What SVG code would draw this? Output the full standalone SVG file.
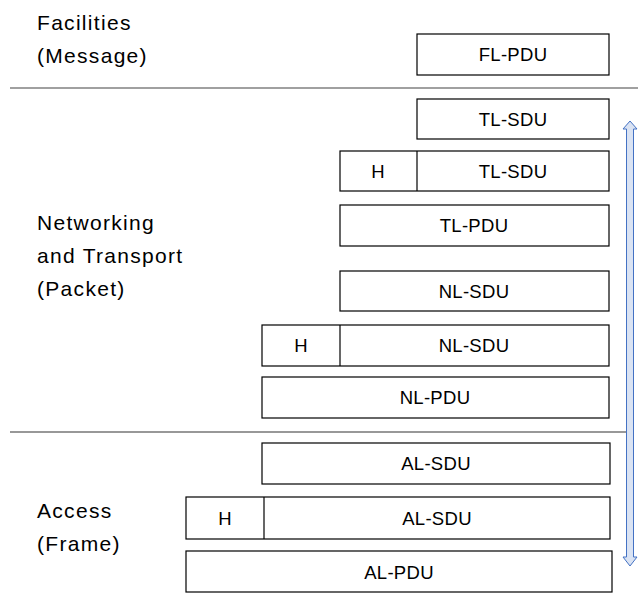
<svg xmlns="http://www.w3.org/2000/svg" width="638" height="597" viewBox="0 0 638 597">
<style>
.box{fill:#fff;stroke:#000;stroke-width:1.2}
.div{stroke:#000;stroke-width:1.2}
.lbl{font-family:"Liberation Sans",Arial,sans-serif;font-size:18.5px;fill:#000;text-anchor:middle;letter-spacing:0.3px}
.side{font-family:"Liberation Sans",Arial,sans-serif;font-size:21px;fill:#000;letter-spacing:1.3px}
</style>
<rect width="638" height="597" fill="#fff"/>
<g id="labels">
<text class="side" x="37" y="30">Facilities</text>
<text class="side" x="37" y="63">(Message)</text>
<text class="side" x="37" y="230">Networking</text>
<text class="side" x="37" y="263">and Transport</text>
<text class="side" x="37" y="296">(Packet)</text>
<text class="side" x="37" y="518">Access</text>
<text class="side" x="37" y="551">(Frame)</text>
</g>
<g id="separators">
<line x1="10" y1="88" x2="638" y2="88" stroke="#808080" stroke-width="1.5"/>
<line x1="10" y1="432" x2="626" y2="432" stroke="#333" stroke-width="1.2"/>
</g>
<g id="fl-pdu"><rect class="box" x="417" y="34" width="192" height="41"/><text class="lbl" x="513" y="61">FL-PDU</text></g>
<g id="tl-sdu-1"><rect class="box" x="417" y="99" width="192" height="40"/><text class="lbl" x="513" y="126">TL-SDU</text></g>
<g id="tl-sdu-2"><rect class="box" x="340" y="151" width="269" height="40"/><line class="div" x1="417" y1="151" x2="417" y2="191"/><text class="lbl" x="378" y="178">H</text><text class="lbl" x="513" y="178">TL-SDU</text></g>
<g id="tl-pdu"><rect class="box" x="340" y="205" width="269" height="41"/><text class="lbl" x="474" y="232">TL-PDU</text></g>
<g id="nl-sdu-1"><rect class="box" x="340" y="271" width="269" height="40"/><text class="lbl" x="474" y="298">NL-SDU</text></g>
<g id="nl-sdu-2"><rect class="box" x="262" y="325" width="347" height="41"/><line class="div" x1="340" y1="325" x2="340" y2="366"/><text class="lbl" x="301" y="352">H</text><text class="lbl" x="474" y="352">NL-SDU</text></g>
<g id="nl-pdu"><rect class="box" x="262" y="377" width="347" height="41"/><text class="lbl" x="435" y="404">NL-PDU</text></g>
<g id="al-sdu-1"><rect class="box" x="262" y="443" width="348" height="41"/><text class="lbl" x="436" y="470">AL-SDU</text></g>
<g id="al-sdu-2"><rect class="box" x="186" y="497" width="424" height="42"/><line class="div" x1="264" y1="497" x2="264" y2="539"/><text class="lbl" x="225" y="525">H</text><text class="lbl" x="437" y="525">AL-SDU</text></g>
<g id="al-pdu"><rect class="box" x="186" y="551" width="426" height="41"/><text class="lbl" x="399" y="579">AL-PDU</text></g>
<g id="connectors">
<path d="M630,121 L637,129 L633.5,129 L633.5,557 L637,557 L630,566 L623,557 L626.5,557 L626.5,129 L623,129 Z" fill="#dae3f3" stroke="#4472c4" stroke-width="1"/>
</g>
</svg>
